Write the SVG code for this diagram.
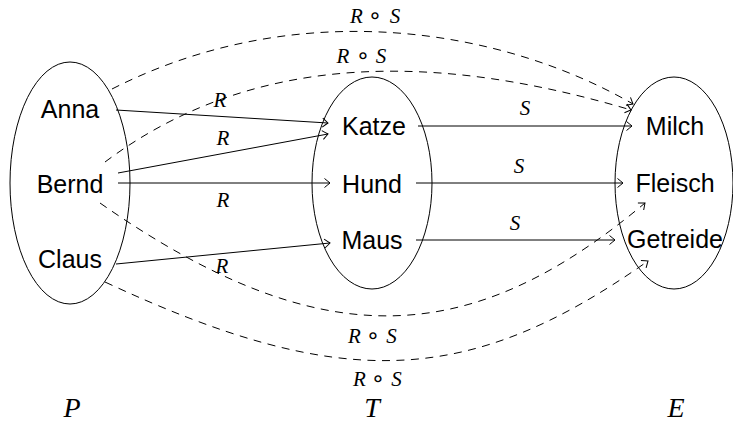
<svg xmlns="http://www.w3.org/2000/svg" width="733" height="422" viewBox="0 0 733 422">
<style>
.set{fill:none;stroke:#000;stroke-width:1}
.lbl{font-family:"Liberation Sans",Arial,sans-serif;font-size:25px;fill:#000;text-anchor:middle}
.math{font-family:"Liberation Serif","Times New Roman",serif;font-style:italic;font-size:21px;fill:#000;text-anchor:middle}
.big{font-size:28px}
.op{font-family:"DejaVu Sans",sans-serif;font-style:normal;font-size:23px}
.edge{fill:none;stroke:#000;stroke-width:1;marker-end:url(#arr)}
.dash{stroke-dasharray:8 6.5}
</style>
<defs>
<marker id="arr" viewBox="-7 -6 8 12" markerWidth="8" markerHeight="12" refX="0" refY="0" orient="auto" markerUnits="userSpaceOnUse">
<path d="M-5.5,-4.5 Q-1.5,-1.2 0,0 Q-1.5,1.2 -5.5,4.5" fill="none" stroke="#000" stroke-width="1" stroke-dasharray="none"/>
</marker>
</defs>
<g id="sets">
<ellipse id="setP" class="set" cx="70" cy="183" rx="60" ry="121"/>
<ellipse id="setT" class="set" cx="372" cy="183" rx="60" ry="106"/>
<ellipse id="setE" class="set" cx="674" cy="183" rx="59" ry="106"/>
</g>
<g id="connectors">
<path class="edge" d="M116,110 L328,123"/>
<path class="edge" d="M118,173 L328,134"/>
<path class="edge" d="M118,183 L330,183"/>
<path class="edge" d="M116,264 L330,243"/>
<path class="edge" d="M418,126 L632,126"/>
<path class="edge" d="M416,183 L623,183"/>
<path class="edge" d="M416,240 L615,240"/>
<path class="edge dash" d="M112,89 C299,-6 503,29 633,104"/>
<path class="edge dash" d="M105,162 C265,42 459,59 631,110"/>
<path class="edge dash" d="M100,203 C319,356 469,351 645,203"/>
<path class="edge dash" d="M105,282 C341,392 468,388 648,261"/>
</g>
<g id="edge-labels">
<text class="math" x="220" y="107">R</text>
<text class="math" x="223" y="145">R</text>
<text class="math" x="223" y="207">R</text>
<text class="math" x="222" y="273">R</text>
<text class="math" x="525" y="115">S</text>
<text class="math" x="519" y="173">S</text>
<text class="math" x="515" y="230">S</text>
<text class="math" y="23"><tspan x="356.5">R</tspan><tspan class="op" x="375">∘</tspan><tspan x="395">S</tspan></text>
<text class="math" y="63"><tspan x="343">R</tspan><tspan class="op" x="363">∘</tspan><tspan x="381">S</tspan></text>
<text class="math" y="343"><tspan x="354.5">R</tspan><tspan class="op" x="373">∘</tspan><tspan x="391.5">S</tspan></text>
<text class="math" y="386"><tspan x="359.5">R</tspan><tspan class="op" x="378">∘</tspan><tspan x="396.5">S</tspan></text>
</g>
<g id="Anna"><text class="lbl" x="70" y="118">Anna</text></g>
<g id="Bernd"><text class="lbl" x="70" y="193">Bernd</text></g>
<g id="Claus"><text class="lbl" x="70" y="268">Claus</text></g>
<g id="Katze"><text class="lbl" x="374" y="135">Katze</text></g>
<g id="Hund"><text class="lbl" x="372" y="193">Hund</text></g>
<g id="Maus"><text class="lbl" x="372" y="249">Maus</text></g>
<g id="Milch"><text class="lbl" x="675" y="135">Milch</text></g>
<g id="Fleisch"><text class="lbl" x="675" y="192">Fleisch</text></g>
<g id="Getreide"><text class="lbl" x="675" y="248">Getreide</text></g>
<g id="set-labels">
<text class="math big" x="72" y="417">P</text>
<text class="math big" x="372" y="417">T</text>
<text class="math big" x="676" y="417">E</text>
</g>
</svg>
